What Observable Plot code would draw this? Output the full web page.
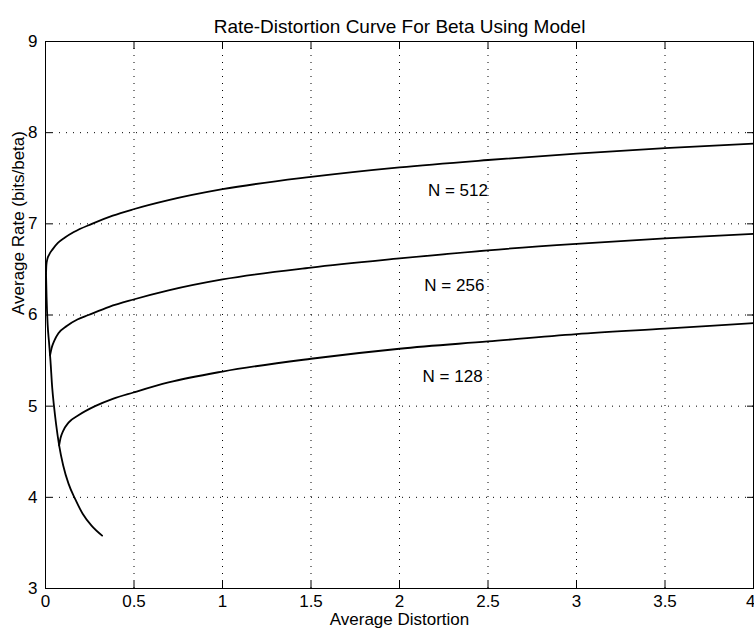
<!DOCTYPE html>
<html>
<head>
<meta charset="utf-8">
<script src="https://cdn.jsdelivr.net/npm/d3@7"></script>
<script src="https://cdn.jsdelivr.net/npm/@observablehq/plot@0.6"></script>
<style>
  html, body { margin: 0; padding: 0; background: #fff; }
  #chart { width: 754px; height: 637px; }
</style>
</head>
<body>
<div id="chart"></div>
<script>
const title = "Rate-Distortion Curve For Beta Using Model";
const xLabel = "Average Distortion";
const yLabel = "Average Rate (bits/beta)";
const xTicks = [0, 0.5, 1, 1.5, 2, 2.5, 3, 3.5, 4];
const yTicks = [3, 4, 5, 6, 7, 8, 9];

// Common descending (model) curve
const dCommon = [0.003, 0.006, 0.012, 0.02, 0.028, 0.038, 0.048, 0.06, 0.077, 0.1, 0.13, 0.168, 0.21, 0.26, 0.32];
const rCommon = [6.45, 6.2, 5.9, 5.7, 5.5, 5.2, 5.0, 4.8, 4.57, 4.35, 4.15, 3.98, 3.82, 3.69, 3.58];

// N = 512 branch
const d512 = [0.003, 0.005, 0.01, 0.02, 0.04, 0.07, 0.11, 0.16, 0.262, 0.38, 0.497, 0.695, 1, 1.5, 2, 2.5, 3, 3.5, 4];
const r512 = [6.45, 6.55, 6.61, 6.66, 6.72, 6.79, 6.85, 6.91, 7.0, 7.09, 7.16, 7.26, 7.38, 7.515, 7.62, 7.70, 7.77, 7.83, 7.88];

// N = 256 branch
const d256 = [0.026, 0.035, 0.05, 0.073, 0.12, 0.18, 0.243, 0.36, 0.497, 0.695, 1, 1.5, 2, 2.5, 3, 3.5, 4];
const r256 = [5.56, 5.64, 5.72, 5.80, 5.88, 5.95, 6.0, 6.09, 6.17, 6.27, 6.39, 6.52, 6.62, 6.71, 6.78, 6.84, 6.89];

// N = 128 branch
const d128 = [0.077, 0.085, 0.1, 0.13, 0.186, 0.28, 0.38, 0.497, 0.695, 1, 1.5, 2, 2.5, 3, 3.5, 4];
const r128 = [4.57, 4.65, 4.73, 4.82, 4.90, 5.0, 5.08, 5.15, 5.26, 5.38, 5.52, 5.63, 5.71, 5.79, 5.85, 5.91];

const labelText = ["N = 512", "N = 256", "N = 128"];
const labelD = [2.33, 2.31, 2.30];
const labelR = [7.36, 6.32, 5.32];

const toRows = (ds, rs, s) => ds.map((d, i) => ({D: d, R: rs[i], s}));
const lines = [
  ...toRows(dCommon, rCommon, "common"),
  ...toRows(d512, r512, "512"),
  ...toRows(d256, r256, "256"),
  ...toRows(d128, r128, "128")
];
const labels = labelText.map((t, i) => ({t, D: labelD[i], R: labelR[i]}));

const font = "'Liberation Sans', Arial, Helvetica, sans-serif";
const fs = 17;

const chart = Plot.plot({
  width: 754,
  height: 637,
  marginLeft: 45,
  marginRight: 1,
  marginTop: 41,
  marginBottom: 49,
  style: {fontFamily: font, fontSize: fs + "px", color: "black", background: "white"},
  x: {domain: [0, 4], ticks: xTicks},
  y: {domain: [3, 9], ticks: yTicks},
  marks: [
    Plot.ruleX(xTicks.slice(1, -1), {stroke: "black", strokeDasharray: "1,6", strokeWidth: 1}),
    Plot.ruleY(yTicks.slice(1, -1), {stroke: "black", strokeDasharray: "1,6", strokeWidth: 1}),
    // tick labels
    Plot.text(xTicks.slice(0, -1), {x: d => d, text: d => String(d), frameAnchor: "bottom", dy: 18, fontSize: fs, fill: "black"}),
    Plot.text(xTicks.slice(-1), {x: d => d, text: d => String(d), frameAnchor: "bottom", dy: 18, dx: 2, textAnchor: "end", fontSize: fs, fill: "black"}),
    Plot.axisY({anchor: "left", ticks: yTicks, tickSize: 0, tickPadding: 8, tickFormat: d => String(d), label: null, fontSize: fs}),
    // inward tick marks on all sides
    Plot.axisX({anchor: "bottom", ticks: xTicks, tickSize: -7, tickFormat: () => "", label: null}),
    Plot.axisX({anchor: "top", ticks: xTicks, tickSize: -7, tickFormat: () => "", label: null}),
    Plot.axisY({anchor: "left", ticks: yTicks, tickSize: -7, tickFormat: () => "", label: null}),
    Plot.axisY({anchor: "right", ticks: yTicks, tickSize: -7, tickFormat: () => "", label: null}),
    Plot.frame({stroke: "black", strokeWidth: 1}),
    Plot.line(lines, {x: "D", y: "R", z: "s", stroke: "black", strokeWidth: 1.8, curve: "monotone-x"}),
    Plot.text(labels, {x: "D", y: "R", text: "t", fontSize: fs, fill: "black"}),
    // axis titles
    Plot.text([xLabel], {frameAnchor: "bottom", dy: 36, fontSize: fs, fill: "black"}),
    Plot.text([yLabel], {frameAnchor: "left", dx: -27, rotate: -90, fontSize: fs, fill: "black"}),
    Plot.text([title], {frameAnchor: "top", dy: -22, fontSize: 19, fill: "black"})
  ]
});
document.getElementById("chart").appendChild(chart);
</script>
</body>
</html>
